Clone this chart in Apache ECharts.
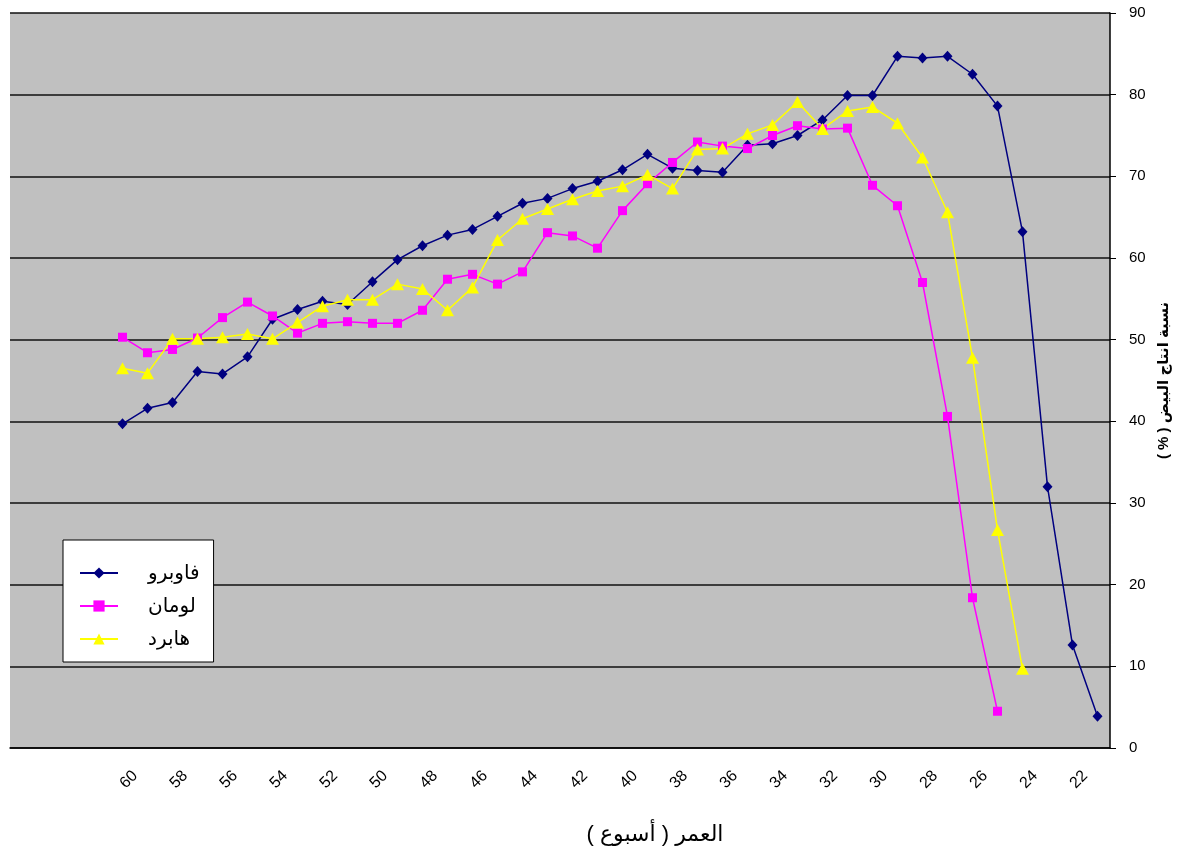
<!DOCTYPE html>
<html>
<head>
<meta charset="utf-8">
<script src="https://cdn.jsdelivr.net/npm/echarts@6/dist/echarts.min.js"></script>
<style>
  html, body { margin: 0; padding: 0; background: #fff; }
  #chart { width: 1183px; height: 861px; }
</style>
</head>
<body>
<div id="chart"></div>
<script>
// weeks shown left to right (first four slots carry no label)
var weeks = ['', '', '', '', '60', '59', '58', '57', '56', '55', '54', '53', '52', '51', '50',
    '49', '48', '47', '46', '45', '44', '43', '42', '41', '40', '39', '38', '37', '36', '35',
    '34', '33', '32', '31', '30', '29', '28', '27', '26', '25', '24', '23', '22', '21'];

var fawbro = [null, null, null, null,
    39.7, 41.6, 42.3, 46.1, 45.8, 47.9, 52.5, 53.7, 54.7, 54.3,
    57.1, 59.8, 61.5, 62.8, 63.5, 65.1, 66.7, 67.3, 68.5, 69.4,
    70.8, 72.7, 71.0, 70.7, 70.5, 73.8, 74.0, 75.0, 76.9, 79.9,
    79.9, 84.7, 84.5, 84.7, 82.5, 78.6, 63.2, 32.0, 12.6, 3.9];

var loman = [null, null, null, null,
    50.3, 48.4, 48.8, 50.2, 52.7, 54.6, 52.9, 50.8, 52.0, 52.2,
    52.0, 52.0, 53.6, 57.4, 58.0, 56.8, 58.3, 63.1, 62.7, 61.2,
    65.8, 69.1, 71.7, 74.2, 73.7, 73.4, 75.0, 76.2, 75.8, 75.9,
    68.9, 66.4, 57.0, 40.6, 18.4, 4.5];

var hubbard = [null, null, null, null,
    46.5, 45.9, 50.1, 50.1, 50.3, 50.7, 50.1, 52.1, 54.1, 54.9,
    54.9, 56.8, 56.2, 53.6, 56.4, 62.2, 64.8, 66.0, 67.2, 68.2,
    68.8, 70.2, 68.5, 73.3, 73.4, 75.2, 76.3, 79.1, 75.8, 78.0,
    78.5, 76.5, 72.3, 65.6, 47.8, 26.7, 9.7];

var seriesNames = ['فاوبرو', 'لومان', 'هابرد'];
var yTicks = { min: 0, max: 90, interval: 10 };

var rlm = '\u200F';
var xName = rlm + 'العمر ( أسبوع )' + rlm;
var yName = rlm + 'نسبة انتاج البيض ( % )' + rlm;

var chart = echarts.init(document.getElementById('chart'));

var option = {
    backgroundColor: '#fff',
    animation: false,
    textStyle: { fontFamily: 'Arial, "DejaVu Sans", sans-serif' },
    grid: {
        left: 10, right: 73, top: 13, bottom: 113,
        show: true, backgroundColor: '#c0c0c0', borderWidth: 0
    },
    legend: {
        orient: 'vertical',
        left: 63, top: 540,
        backgroundColor: '#fff',
        borderColor: '#000', borderWidth: 1,
        padding: [23, 14, 13, 16],
        itemWidth: 38, itemHeight: 14, itemGap: 13,
        textStyle: { fontSize: 20, color: '#000', padding: [0, 0, 0, 25] },
        data: seriesNames
    },
    xAxis: {
        type: 'category',
        data: weeks,
        boundaryGap: true,
        name: xName,
        nameLocation: 'middle',
        nameGap: 76,
        nameTextStyle: { fontSize: 22, color: '#000', padding: [0, 0, 0, 190] },
        axisLine: { lineStyle: { color: '#000', width: 1.5 } },
        axisTick: { interval: 0, length: 6, lineStyle: { color: '#000' } },
        axisLabel: { interval: 1, rotate: 45, fontSize: 16, color: '#000', margin: 38, padding: [0, -18, 0, 0] },
        splitLine: { show: false }
    },
    yAxis: {
        type: 'value',
        position: 'right',
        min: yTicks.min, max: yTicks.max, interval: yTicks.interval,
        name: yName,
        nameLocation: 'middle',
        nameRotate: 90,
        nameGap: 46,
        nameTextStyle: { fontSize: 15, fontWeight: 'bold', color: '#000' },
        axisLine: { show: true, lineStyle: { color: '#000', width: 1.5 } },
        axisTick: { show: true, length: 6, lineStyle: { color: '#000' } },
        axisLabel: { fontSize: 15, color: '#000', margin: 19 },
        splitLine: { show: true, lineStyle: { color: '#111', width: 1.5 } }
    },
    series: [
        {
            name: seriesNames[0], type: 'line', data: fawbro,
            symbol: 'diamond', symbolSize: [10, 11],
            itemStyle: { color: '#000080' },
            lineStyle: { color: '#000080', width: 1.5 }
        },
        {
            name: seriesNames[1], type: 'line', data: loman,
            symbol: 'rect', symbolSize: 9,
            itemStyle: { color: '#ff00ff' },
            lineStyle: { color: '#ff00ff', width: 1.5 }
        },
        {
            name: seriesNames[2], type: 'line', data: hubbard,
            symbol: 'triangle', symbolSize: [13, 12],
            itemStyle: { color: '#ffff00' },
            lineStyle: { color: '#ffff00', width: 1.5 }
        }
    ]
};

chart.setOption(option);
</script>
</body>
</html>
